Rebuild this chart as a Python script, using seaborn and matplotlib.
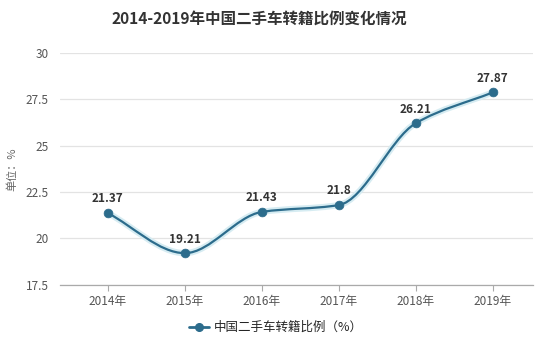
import numpy as np
import pandas as pd
import seaborn as sns
import matplotlib
matplotlib.use("Agg")
import matplotlib.pyplot as plt
from matplotlib.path import Path
from matplotlib.patches import PathPatch
import matplotlib.patheffects as pe

# data
years = ["2014年", "2015年", "2016年", "2017年", "2018年", "2019年"]
ratio = [21.37, 19.21, 21.43, 21.8, 26.21, 27.87]
yticks = [17.5, 20, 22.5, 25, 27.5, 30]
series_name = "中国二手车转籍比例（%）"

sns.set_style("white")
plt.rcParams["font.family"] = ["Noto Sans CJK SC", "DejaVu Sans"]

line_color = "#2c6c8c"

df = pd.DataFrame({"year": years, "ratio": ratio})
df["pos"] = range(len(df))

fig = plt.figure(figsize=(5.51, 3.57), dpi=100)
ax = fig.add_axes([0.109, 0.202, 0.858, 0.650])

# smooth curve (monotone cubic through the points, drawn as bezier segments)
x = df["pos"].to_numpy(dtype=float)
y = df["ratio"].to_numpy(dtype=float)
d = np.diff(y) / np.diff(x)
m = np.zeros_like(y)
m[0], m[-1] = d[0], d[-1]
for i in range(1, len(y) - 1):
    if d[i - 1] * d[i] <= 0:
        m[i] = 0.0
    else:
        m[i] = 2.0 / (1.0 / d[i - 1] + 1.0 / d[i])
verts = [(x[0], y[0])]
codes = [Path.MOVETO]
for i in range(len(x) - 1):
    h = x[i + 1] - x[i]
    verts += [(x[i] + h / 3, y[i] + m[i] * h / 3),
              (x[i + 1] - h / 3, y[i + 1] - m[i + 1] * h / 3),
              (x[i + 1], y[i + 1])]
    codes += [Path.CURVE4] * 3
curve = PathPatch(Path(verts, codes), facecolor="none", edgecolor=line_color,
                  lw=1.6, zorder=3,
                  path_effects=[pe.Stroke(linewidth=4.5, foreground="#d6ecf2"),
                                pe.Normal()])
ax.add_patch(curve)

sns.scatterplot(data=df, x="pos", y="ratio", ax=ax, color=line_color,
                s=40, edgecolor=line_color, zorder=4, legend=False)

for xi, yi in zip(x, y):
    ax.annotate(f"{yi:g}", (xi, yi), xytext=(0, 5.5), textcoords="offset points",
                ha="center", va="bottom", fontsize=8.5, fontweight="bold",
                color="#333333")

ax.set_xlim(-0.62, 5.52)
ax.set_ylim(17.5, 30)
ax.set_yticks(yticks)
ax.set_yticklabels([f"{t:g}" for t in yticks])
ax.set_xticks(x)
ax.set_xticklabels(years)
ax.grid(axis="y", color="#e3e3e3", lw=0.9)
ax.set_axisbelow(True)
for s in ["left", "right", "top"]:
    ax.spines[s].set_visible(False)
ax.spines["bottom"].set_color("#aaaaaa")
ax.spines["bottom"].set_linewidth(0.9)
ax.tick_params(axis="x", length=4, width=0.8, color="#aaaaaa", labelsize=8.5,
               labelcolor="#555555", pad=3, direction="out", bottom=True)
ax.tick_params(axis="y", length=0, labelsize=8.5, labelcolor="#555555", pad=8)
ax.set_xlabel("")
ax.set_ylabel("单位：%", fontsize=8, color="#666666", labelpad=6)

fig.text(0.47, 0.948, "2014-2019年中国二手车转籍比例变化情况", ha="center",
         va="center", fontsize=11.2, fontweight="bold", color="#333333")

handle = plt.Line2D([], [], color=line_color, lw=2, marker="o", markersize=5.5)
fig.legend([handle], [series_name], loc="center", bbox_to_anchor=(0.5, 0.082),
           frameon=False, fontsize=9, handlelength=1.6, handletextpad=0.4)

fig.savefig("out.png", dpi=100)
